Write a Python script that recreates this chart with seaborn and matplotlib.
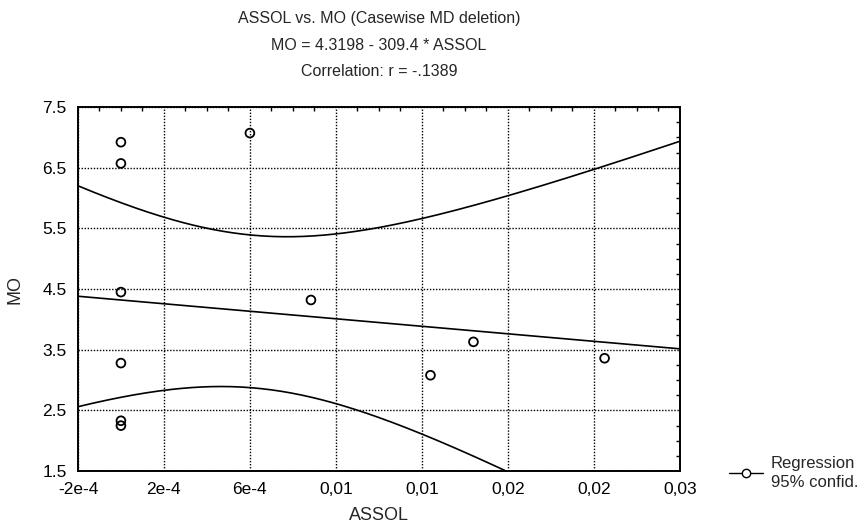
import numpy as np
import pandas as pd
import matplotlib
matplotlib.use("Agg")
import matplotlib.pyplot as plt
import seaborn as sns
from matplotlib.ticker import FixedLocator, MultipleLocator
from matplotlib.lines import Line2D

# points
assol = [0.0, 0.0, 0.0, 0.0, 0.0, 0.0, 6.0e-4, 8.84e-4, 1.44e-3, 1.64e-3, 2.25e-3]
mo = [6.92, 6.57, 4.45, 3.28, 2.33, 2.25, 7.07, 4.32, 3.08, 3.63, 3.36]

# fit as printed in the title
intercept = 4.3198
slope = -309.4
t_crit = 2.262  # t(0.975, df = 9)

x_ticks = [-2e-4, 2e-4, 6e-4, 1e-3, 1.4e-3, 1.8e-3, 2.2e-3, 2.6e-3]
x_labels = ["-2e-4", "2e-4", "6e-4", "0,01", "0,01", "0,02", "0,02", "0,03"]
y_ticks = [1.5, 2.5, 3.5, 4.5, 5.5, 6.5, 7.5]

sns.set_style("white")
plt.rcParams['font.family'] = ['Liberation Sans', 'DejaVu Sans']

df = pd.DataFrame({"ASSOL": assol, "MO": mo})

# regression line + 95% confidence band
xa = df["ASSOL"].to_numpy()
n = len(xa)
xbar = xa.mean()
sxx = ((xa - xbar) ** 2).sum()
resid = df["MO"].to_numpy() - (intercept + slope * xa)
s = np.sqrt((resid ** 2).sum() / (n - 2))
xg = np.linspace(x_ticks[0], x_ticks[-1], 300)
fit = intercept + slope * xg
half = t_crit * s * np.sqrt(1.0 / n + (xg - xbar) ** 2 / sxx)
band = pd.DataFrame({"x": xg, "fit": fit, "lo": fit - half, "hi": fit + half})

fig = plt.figure(figsize=(8.66, 5.27), dpi=100)
ax = fig.add_axes([0.090, 0.106, 0.695, 0.691])

for col in ["fit", "lo", "hi"]:
    sns.lineplot(data=band, x="x", y=col, ax=ax, color="black", lw=1.2)
sns.scatterplot(data=df, x="ASSOL", y="MO", ax=ax, s=40, marker="o",
                facecolor="none", edgecolor="black", linewidth=1.3, zorder=5)

ax.set_xlim(x_ticks[0], x_ticks[-1])
ax.set_ylim(y_ticks[0], y_ticks[-1])
ax.xaxis.set_major_locator(FixedLocator(x_ticks))
ax.set_xticklabels(x_labels)
ax.xaxis.set_minor_locator(MultipleLocator(1e-4))
ax.set_yticks(y_ticks)
ax.yaxis.set_minor_locator(MultipleLocator(0.25))
ax.tick_params(which="both", direction="in", top=True, right=True,
               colors="black", labelsize=12.5)
ax.tick_params(which="major", length=0, pad=8)
ax.tick_params(which="minor", length=3, width=1)
ax.grid(True, which="major", color="black", linestyle=(0, (1, 1.2)), lw=1)
for sp in ax.spines.values():
    sp.set_color("black")
    sp.set_linewidth(1.4)

ax.set_xlabel("ASSOL", fontsize=13, labelpad=7)
ax.set_ylabel("MO", fontsize=13, labelpad=14)

cx = 0.090 + 0.695 / 2
fig.text(cx, 1 - 18 / 527, "ASSOL vs. MO (Casewise MD deletion)", ha="center", va="center", fontsize=11.5)
fig.text(cx, 1 - 45 / 527, "MO = 4.3198 - 309.4 * ASSOL", ha="center", va="center", fontsize=11.5)
fig.text(cx, 1 - 72 / 527, "Correlation: r = -.1389", ha="center", va="center", fontsize=11.5)

handle = Line2D([], [], color="black", lw=1, marker="o", markersize=6,
                markerfacecolor="white", markeredgecolor="black")
leg = fig.legend([handle], ["Regression\n95% confid."], loc="center left",
                 bbox_to_anchor=(0.825, 1 - 473 / 527), frameon=False, fontsize=12,
                 handlelength=2.0, handletextpad=0.5)
for t in leg.get_texts():
    t.set_linespacing(1.3)

fig.savefig("out.png", dpi=100)
